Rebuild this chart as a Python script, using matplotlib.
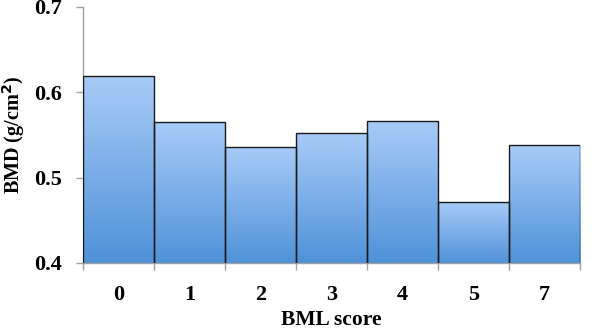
import numpy as np
import matplotlib
matplotlib.use("Agg")
import matplotlib.pyplot as plt
from matplotlib.colors import LinearSegmentedColormap

categories = ["0", "1", "2", "3", "4", "5", "7"]
bmd = [0.619, 0.565, 0.536, 0.552, 0.566, 0.471, 0.538]
yticks = [0.4, 0.5, 0.6, 0.7]

plt.rcParams['font.family'] = ['Liberation Serif', 'DejaVu Serif']
plt.rcParams['font.weight'] = 'bold'

fig = plt.figure(figsize=(5.96, 3.32), dpi=100)
ax = fig.add_axes([0.139, 0.208, 0.834, 0.771])

x = np.arange(len(categories))
bars = ax.bar(x, bmd, width=1.0, bottom=0, color='none', edgecolor='#1a1a1a', linewidth=1.0, zorder=3)

cmap = LinearSegmentedColormap.from_list('g', ['#4f92d8', '#a8cbf8'])
grad = np.linspace(0, 1, 256).reshape(-1, 1)
for b in bars:
    x0 = b.get_x(); w = b.get_width(); h = b.get_height()
    im = ax.imshow(grad, extent=[x0, x0 + w, 0.4, h], origin='lower', aspect='auto', cmap=cmap, zorder=2)
    im.set_clip_path(b)

ax.set_xlim(-0.5, len(categories) - 0.5)
ax.set_ylim(0.4, 0.7)
ax.set_yticks(yticks)
ax.set_yticklabels([f"{t:.1f}" for t in yticks], fontsize=16, fontweight='bold')
ax.set_xticks(x)
ax.set_xticklabels(categories, fontsize=16, fontweight='bold')
ax.set_xticks(np.arange(len(categories) + 1) - 0.5, minor=True)
ax.tick_params(axis='x', which='major', length=0, pad=16)
ax.tick_params(axis='x', which='minor', length=5, color='#a0a0a0', width=1)
ax.tick_params(axis='y', length=5, color='#a0a0a0', width=1, pad=10)

for s in ['top', 'right']:
    ax.spines[s].set_visible(False)
for s in ['left', 'bottom']:
    ax.spines[s].set_color('#a0a0a0')
    ax.spines[s].set_linewidth(1)

ax.set_ylabel("BMD (g/cm$^\\mathbf{2}$)", fontsize=14.5, fontweight='bold')
ax.set_xlabel("BML score", fontsize=15.5, fontweight='bold')
ax.yaxis.set_label_coords(-0.140, 0.5)
ax.yaxis.label.set_va('center')
ax.xaxis.set_label_coords(0.5, -0.222)
ax.xaxis.label.set_va('center')

fig.savefig("out.png", dpi=100)
